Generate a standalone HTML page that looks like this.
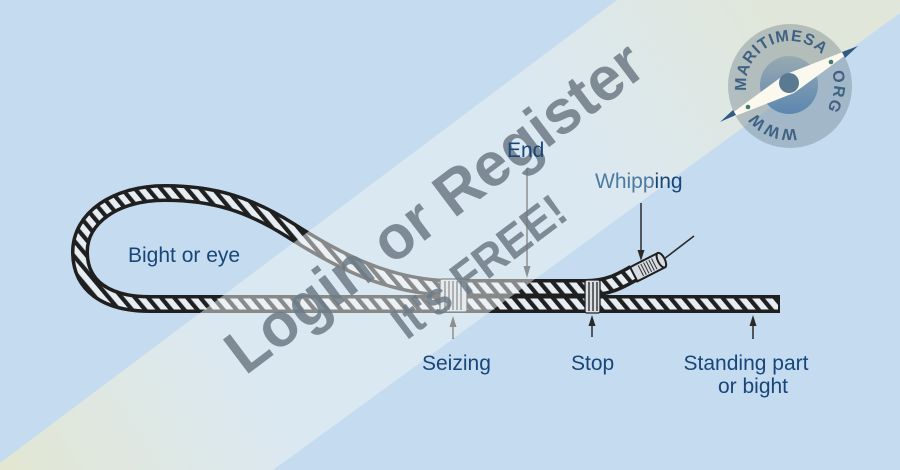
<!DOCTYPE html>
<html><head><meta charset="utf-8"><style>
html,body{margin:0;padding:0;background:#c5dbef;}
svg{display:block;}
</style></head><body>
<svg width="900" height="470" viewBox="0 0 900 470" xmlns="http://www.w3.org/2000/svg">
<defs>
<pattern id="rp" width="10" height="10" patternUnits="userSpaceOnUse" patternTransform="rotate(-40)">
<rect width="10" height="10" fill="#e6edf3"/><rect width="4.2" height="10" fill="#202020"/>
</pattern>
<linearGradient id="bandg" gradientUnits="userSpaceOnUse" x1="0" y1="470" x2="760" y2="0">
<stop offset="0" stop-color="rgb(250,240,185)" stop-opacity="0.55"/>
<stop offset="0.3" stop-color="rgb(240,245,246)" stop-opacity="0.5"/>
<stop offset="0.72" stop-color="rgb(240,245,246)" stop-opacity="0.5"/>
<stop offset="1" stop-color="rgb(246,240,200)" stop-opacity="0.55"/>
</linearGradient>
<linearGradient id="inner" x1="0" y1="0" x2="0" y2="1">
<stop offset="0" stop-color="#94a7b1"/><stop offset="1" stop-color="#4f7eab"/>
</linearGradient>
<path id="lc" d="M 834 85 A 44 44 0 1 1 746 85 A 44 44 0 1 1 834 85 A 44 44 0 1 1 746 85 A 44 44 0 1 1 834 85"/>
</defs>
<rect width="900" height="470" fill="#c5dbef"/>

<!-- rope -->
<g fill="none">
<path d="M 780 304 L 150 304 C 105 304, 80 285, 80 252 C 80 218, 115 193, 165 193 C 215 193, 250 205, 290 230 C 340 262, 390 287, 450 288 L 585 288 C 608 288, 620 281, 634 273" stroke="#1f1f1f" stroke-width="18"/>
<path d="M 778 304 L 150 304 C 105 304, 80 285, 80 252 C 80 218, 115 193, 165 193 C 215 193, 250 205, 290 230 C 340 262, 390 287, 450 288 L 585 288 C 608 288, 620 281, 634 273" stroke="url(#rp)" stroke-width="11"/>
</g>
<!-- seizing -->
<g stroke="#222" stroke-width="1.2">
<rect x="440" y="279" width="27" height="33" fill="#d9dfe4" rx="2"/>
<line x1="445" y1="281" x2="445" y2="310"/><line x1="449" y1="281" x2="449" y2="310"/><line x1="453" y1="281" x2="453" y2="310"/><line x1="457" y1="281" x2="457" y2="310"/><line x1="461" y1="281" x2="461" y2="310"/>
</g>
<!-- stop -->
<g stroke="#222" stroke-width="1.3">
<rect x="585" y="280" width="15" height="33" fill="#d9dfe4" rx="2"/>
<line x1="589" y1="282" x2="589" y2="311"/><line x1="593" y1="282" x2="593" y2="311"/><line x1="597" y1="282" x2="597" y2="311"/>
</g>
<!-- whipping -->
<g transform="translate(648,267) rotate(-27)">
<rect x="-16" y="-8" width="31" height="16" fill="#d5dbe0" stroke="#1f1f1f" stroke-width="2"/>
<g stroke="#333" stroke-width="1"><line x1="-8" y1="-6" x2="-8" y2="6"/><line x1="-5" y1="-6" x2="-5" y2="6"/><line x1="-2" y1="-6" x2="-2" y2="6"/><line x1="1" y1="-6" x2="1" y2="6"/><line x1="4" y1="-6" x2="4" y2="6"/><line x1="7" y1="-6" x2="7" y2="6"/></g>
<ellipse cx="15" cy="0" rx="3.5" ry="8" fill="#d5dbe0" stroke="#1f1f1f" stroke-width="2"/>
</g>
<line x1="664" y1="259" x2="694" y2="236" stroke="#2a2a2a" stroke-width="1.6"/>

<!-- arrows -->
<g stroke="#2a2a2a" stroke-width="1.5" fill="#2a2a2a">
<line x1="527" y1="168" x2="527" y2="268"/><polygon points="523.5,266 530.5,266 527,278" stroke="none"/>
<line x1="641" y1="203" x2="641" y2="252"/><polygon points="637.5,250 644.5,250 641,261" stroke="none"/>
<line x1="453" y1="325" x2="453" y2="339"/><polygon points="449.5,327 456.5,327 453,316" stroke="none"/>
<line x1="592" y1="325" x2="592" y2="337"/><polygon points="588.5,326 595.5,326 592,315" stroke="none"/>
<line x1="753" y1="325" x2="753" y2="339"/><polygon points="749.5,326 756.5,326 753,315" stroke="none"/>
</g>

<!-- band overlay -->
<polygon points="0,463 617,0 900,0 900,13 273,470 0,470" fill="url(#bandg)"/>

<!-- watermark -->
<g transform="translate(447,224) rotate(-37)" font-family="'Liberation Sans', sans-serif" font-weight="bold" fill="#6d7a85" fill-opacity="0.85" text-anchor="middle">
<text x="0" y="0" font-size="62" textLength="505" lengthAdjust="spacingAndGlyphs">Login or Register</text>
<text x="0" y="69" font-size="46" textLength="205" lengthAdjust="spacingAndGlyphs">It's FREE!</text>
</g>

<!-- labels -->
<g font-family="'Liberation Sans', sans-serif" font-size="21" fill="#18467a">
<text x="128" y="262">Bight or eye</text>
<text x="507" y="157">End</text>
<text x="595" y="188"><tspan fill="#4d7aa3">Whipp</tspan>ing</text>
<text x="422" y="370">Seizing</text>
<text x="571" y="370">Stop</text>
<text x="746" y="370" text-anchor="middle">Standing part</text>
<text x="753" y="393" text-anchor="middle">or bight</text>
</g>

<!-- logo -->
<g>
<circle cx="790" cy="86" r="62" fill="rgba(100,120,130,0.36)"/>
<circle cx="789" cy="85" r="29" fill="url(#inner)" fill-opacity="0.85"/>
<g font-family="'Liberation Sans', sans-serif" font-weight="bold" font-size="16" fill="#3f6283">
<text><textPath href="#lc" startOffset="62" letter-spacing="0.5">WWW</textPath></text>
<text><textPath href="#lc" startOffset="132" letter-spacing="1">MARITIMESA</textPath></text>
<text><textPath href="#lc" startOffset="262" letter-spacing="1.5">ORG</textPath></text>
</g>
<polygon points="720,122 784,75 858,46 794,93" fill="#fbf8ee"/>
<polygon points="720,122 733,110 736,115" fill="#2f5b86"/>
<polygon points="858,46 842,52 845,58" fill="#2f5b86"/>
<circle cx="789" cy="83" r="10" fill="#5a7a92"/>
<circle cx="748" cy="107" r="2.3" fill="#3f7a70"/>
<circle cx="831" cy="62" r="2.3" fill="#3f7a70"/>
</g>
</svg>
</body></html>
